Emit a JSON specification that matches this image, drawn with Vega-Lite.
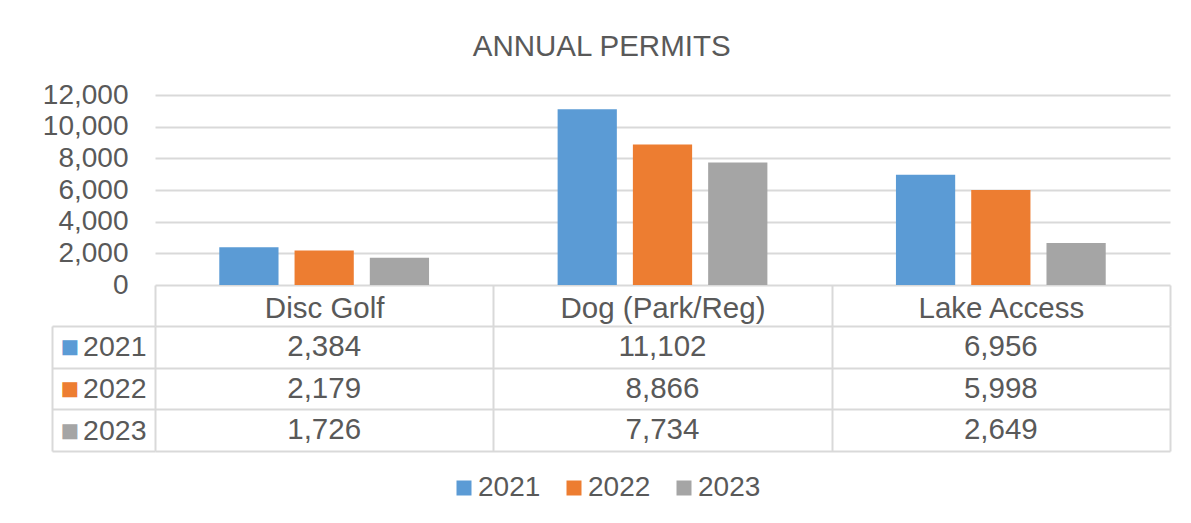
{
  "$schema": "https://vega.github.io/schema/vega-lite/v6.json",
  "background": "white",
  "padding": {"left": 42, "top": 31, "right": 20, "bottom": 5},
  "config": {"view": {"stroke": null}, "font": "Liberation Sans"},
  "title": {"text": "ANNUAL PERMITS", "font": "Liberation Sans", "fontSize": 29.5, "fontWeight": "normal", "color": "#595959", "anchor": "middle", "offset": 19, "dx": -5},
  "data": {"values": [
    {"category": "Disc Golf", "year": "2021", "permits": 2384},
    {"category": "Disc Golf", "year": "2022", "permits": 2179},
    {"category": "Disc Golf", "year": "2023", "permits": 1726},
    {"category": "Dog (Park/Reg)", "year": "2021", "permits": 11102},
    {"category": "Dog (Park/Reg)", "year": "2022", "permits": 8866},
    {"category": "Dog (Park/Reg)", "year": "2023", "permits": 7734},
    {"category": "Lake Access", "year": "2021", "permits": 6956},
    {"category": "Lake Access", "year": "2022", "permits": 5998},
    {"category": "Lake Access", "year": "2023", "permits": 2649}
  ]},
  "bounds": "flush",
  "spacing": 41,
  "vconcat": [
    {
      "width": 1015,
      "height": 190,
      "mark": {"type": "bar"},
      "encoding": {
        "x": {"field": "category", "type": "nominal", "sort": null, "scale": {"paddingInner": 0.38, "paddingOuter": 0.19}, "axis": null},
        "xOffset": {"field": "year", "type": "nominal", "sort": null, "scale": {"paddingInner": 0.213, "paddingOuter": 0}},
        "y": {"field": "permits", "type": "quantitative", "scale": {"domain": [0, 12000]},
          "axis": {"values": [0, 2000, 4000, 6000, 8000, 10000, 12000], "format": ",.0f", "title": null, "domain": false, "ticks": false, "gridColor": "#d9d9d9", "gridWidth": 2, "labelFont": "Liberation Sans", "labelFontSize": 28, "labelColor": "#595959", "labelPadding": 27}},
        "color": {"field": "year", "type": "nominal", "sort": null, "scale": {"range": ["#5B9BD5", "#ED7D31", "#A5A5A5"]},
          "legend": {"orient": "none", "legendX": 295, "legendY": 379, "direction": "horizontal", "title": null, "symbolType": "square", "symbolSize": 225, "symbolStrokeWidth": 0, "labelFont": "Liberation Sans", "labelFontSize": 28, "labelColor": "#595959", "labelOffset": 0, "columnPadding": 19, "padding": 0}}
      }
    },
    {
      "width": 1015,
      "height": 125,
      "resolve": {"scale": {"y": "independent"}, "axis": {"y": "independent"}},
      "layer": [
        {
          "mark": {"type": "text", "font": "Liberation Sans", "fontSize": 29.5, "color": "#595959"},
          "encoding": {
            "x": {"field": "category", "type": "nominal", "sort": null, "scale": {"paddingInner": 0, "paddingOuter": 0},
              "axis": {"orient": "top", "title": null, "tickBand": "extent", "tickSize": 41, "tickColor": "#d9d9d9", "tickWidth": 2, "grid": true, "gridColor": "#d9d9d9", "gridWidth": 2, "domain": false, "labelFont": "Liberation Sans", "labelFontSize": 29.5, "labelColor": "#595959", "labelAngle": 0, "labelBaseline": "middle", "labelPadding": -23, "labelLimit": 400}},
            "y": {"field": "year", "type": "nominal", "sort": null, "scale": {"paddingInner": 0, "paddingOuter": 0},
              "axis": {"orient": "left", "title": null, "tickBand": "extent", "tickSize": 103, "tickColor": "#d9d9d9", "tickWidth": 2, "grid": true, "gridColor": "#d9d9d9", "gridWidth": 2, "domain": false, "labelFont": "Liberation Sans", "labelFontSize": 28.5, "labelColor": "#595959", "labelBaseline": "middle", "labelPadding": -94}},
            "text": {"field": "permits", "type": "quantitative", "format": ",.0f"}
          }
        },
        {
          "mark": {"type": "text", "opacity": 0},
          "encoding": {
            "x": {"field": "category", "type": "nominal", "sort": null},
            "y": {"field": "year", "type": "nominal", "sort": null, "scale": {"paddingInner": 0, "paddingOuter": 0},
              "axis": {"orient": "left", "title": null, "offset": 103, "ticks": false, "grid": false, "domain": true, "domainColor": "#d9d9d9", "domainWidth": 2, "labelExpr": "'■'", "labelColor": {"condition": [{"test": "datum.value == '2021'", "value": "#5B9BD5"}, {"test": "datum.value == '2022'", "value": "#ED7D31"}], "value": "#A5A5A5"}, "labelAlign": "left", "labelPadding": -8, "labelFont": "DejaVu Sans", "labelFontSize": 19.5, "labelBaseline": "middle"}},
            "text": {"value": ""}
          }
        }
      ]
    }
  ]
}
